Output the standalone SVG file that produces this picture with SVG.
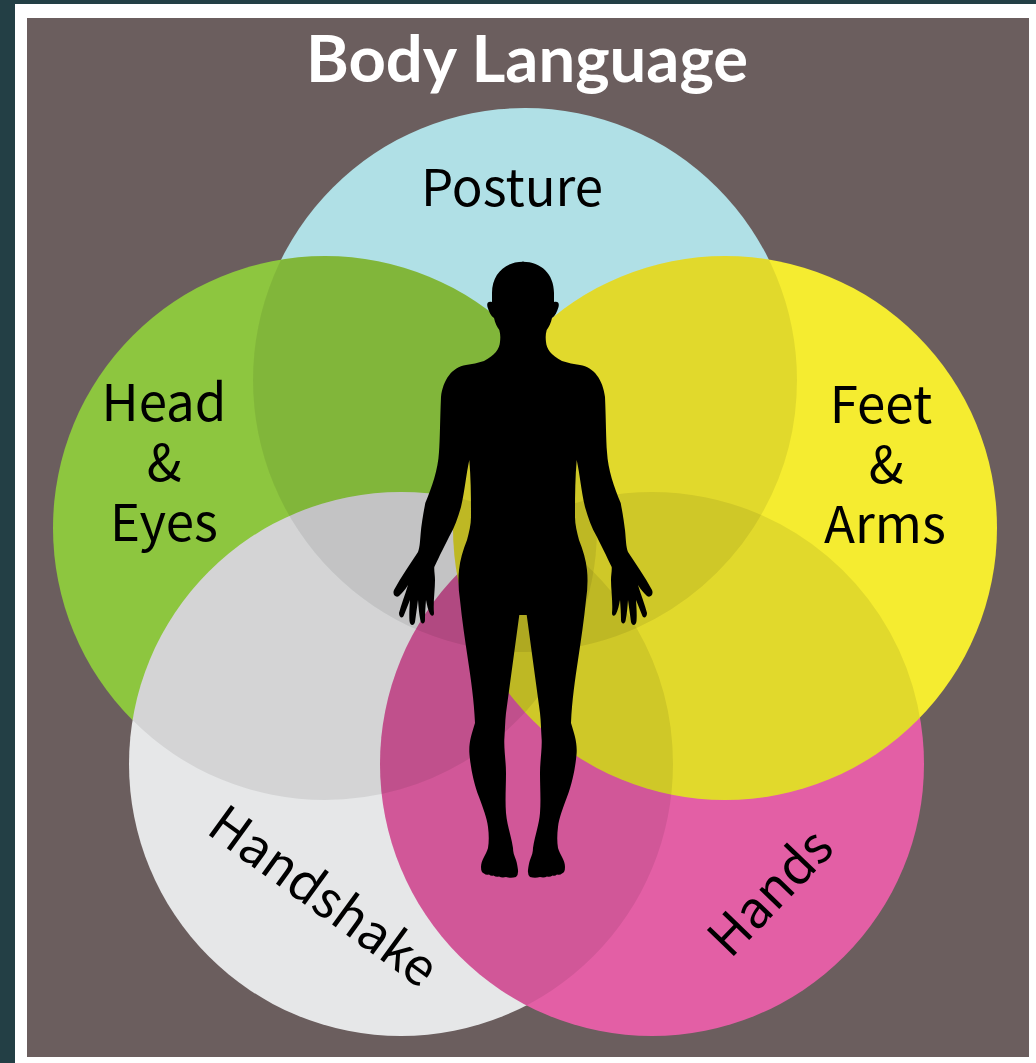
<svg xmlns="http://www.w3.org/2000/svg" width="1036" height="1063" viewBox="0 0 1036 1063">
<style>
.lbl{font-family:"Noto Sans CJK SC","Noto Sans",sans-serif;font-size:51px;fill:#000;text-anchor:middle}
.ttl{font-family:Lato,"Liberation Sans",sans-serif;font-weight:700;font-size:65.2px;fill:#fff;text-anchor:middle}
.ov{fill:#000;opacity:.08}
</style>
<defs>
<clipPath id="u1"><circle cx="525" cy="380" r="272"/></clipPath>
<clipPath id="u2"><circle cx="525" cy="380" r="272"/><circle cx="325" cy="528" r="272"/></clipPath>
<clipPath id="u3"><circle cx="525" cy="380" r="272"/><circle cx="325" cy="528" r="272"/><circle cx="401" cy="764" r="272"/></clipPath>
<clipPath id="u4"><circle cx="525" cy="380" r="272"/><circle cx="325" cy="528" r="272"/><circle cx="401" cy="764" r="272"/><circle cx="652" cy="764" r="272"/></clipPath>
</defs>
<rect width="1036" height="1063" fill="#233f45"/>
<rect x="15" y="4" width="1021" height="1059" fill="#fff"/>
<rect x="27" y="18" width="1002" height="1039" fill="#6b5e5e"/>
<text class="ttl" x="527" y="82">Body Language</text>
<g id="posture"><circle cx="525" cy="380" r="272" fill="#b0e0e6"/><text class="lbl" x="512" y="206">Posture</text></g>
<g id="head-eyes"><circle cx="325" cy="528" r="272" fill="#8dc63f"/><text class="lbl" x="164" y="421">Head</text><text class="lbl" x="164" y="481">&amp;</text><text class="lbl" x="164" y="541">Eyes</text></g>
<g id="handshake"><circle cx="401" cy="764" r="272" fill="#e6e7e8"/><text class="lbl" x="323" y="914" transform="rotate(36 323 897)">Handshake</text></g>
<g id="hands"><circle cx="652" cy="764" r="272" fill="#e35fa5"/><text class="lbl" x="771" y="910" transform="rotate(-46 771 893)">Hands</text></g>
<g id="feet-arms"><circle cx="725" cy="528" r="272" fill="#f5ec30"/><text class="lbl" x="881" y="423">Feet</text><text class="lbl" x="886" y="483">&amp;</text><text class="lbl" x="885" y="543">Arms</text></g>
<g id="overlaps">
<circle class="ov" cx="325" cy="528" r="272" clip-path="url(#u1)"/>
<circle class="ov" cx="401" cy="764" r="272" clip-path="url(#u2)"/>
<circle class="ov" cx="652" cy="764" r="272" clip-path="url(#u3)"/>
<circle class="ov" cx="725" cy="528" r="272" clip-path="url(#u4)"/>
</g>
<g id="figure" fill="#000">
<path id="half" d="M522 261.7H523C541 261.7 554 274 554 293L554 302C558 301 559.5 303 558.5 307C557 312 555 316 552 318C551 323 549 327 546.7 330C545.5 334 545.5 338 546 342C546.5 349 551 355 562 361C568 363 574 364 580 365C594 367 603 380 605 397C606 420 606 440 607 452C608 470 614 487 620.7 503C623 515 624 522 625 530C626 540 626 547 628 552C636 564 645 577 652 590C654 595 650 598 647 596C644 593 641 590 638 585C641 595 645 605 647 613C647 618 643 619 642 615C640 610 638 605 636 600C636.5 607 637 615 636.5 621C636 626 632 626 631 622C630 615 629 607 628 600C627.5 607 627 613 625.7 620C625 625 621 624 621 620C621 613 620.5 606 620 600C619 605 618 610 616 614C614 617 612 616 612 613C613 603 611 590 611 580C611 575 612 571 611.7 567C606 555 602 547 597 537C591 527 588 517 585 507C581 490 580 475 576.7 460C575 480 575 500 575 517C575 525 577 532 579 540C583 550 586 560 587 570C588 580 587.5 590 586 600C584 620 581 640 578 660C575 680 572 700 571 723C574 733 577 741 576.7 752C576 763 573 782 567 797C563 808 559 818 558 827C557 835 557 842 558 848C560 855 565 860 565 867C565 871 564 873 562 873.5Q560 875.5 557 874.5Q555 876.5 552.5 875.5Q550 877.5 547 876.5Q544 878 540 877Q535 878.5 530 877Q527.5 875 528 870C528.5 866 529 863 530 860C532 855 533 852 533 848C535 835 539 825 540 813C541 800 540 787 540 773C540 762 542 750 541.7 740C541 730 541 722 540 713L526.7 615H522Z"/>
<use href="#half" transform="translate(1046 0) scale(-1 1)"/>
</g>
</svg>
